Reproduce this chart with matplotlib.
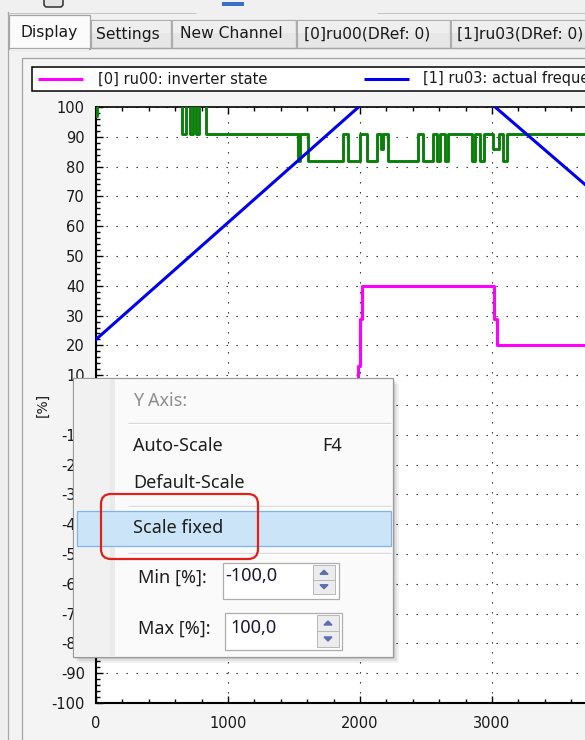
import matplotlib
matplotlib.use("Agg")
import matplotlib.pyplot as plt
from matplotlib.patches import Rectangle, FancyBboxPatch, Polygon
from matplotlib.ticker import MultipleLocator

W, H = 585, 740

# [0] ru00: inverter state (steps)
state_x = [0, 1982, 1997, 2012, 3014, 3037, 3705]
state_y = [0, 13, 29, 40, 29, 20, 20]

# [1] ru03: actual frequency (goes above 100 % between ~2000 and ~3000)
freq_x = [0, 2500, 3705]
freq_y = [22, 120, 74]

# [2] third channel, green trace (steps)
green_x = [0, 8, 652, 682, 712, 735, 758, 780, 833, 1530, 1545, 1606, 1871, 1909,
           2000, 2053, 2129, 2159, 2174, 2212, 2439, 2477, 2553, 2583, 2606, 2644,
           2667, 2848, 2871, 2909, 2939, 3008, 3053, 3083, 3114, 3152, 3705]
green_y = [97, 104, 91, 104, 91, 104, 91, 104, 91, 82, 91, 82, 91, 82,
           91, 82, 91, 86, 91, 82, 91, 82, 91, 82, 91, 82,
           91, 82, 91, 82, 91, 86, 91, 82, 91, 91, 91]

tab_labels = ["Display", "Settings", "New Channel", "[0]ru00(DRef: 0)", "[1]ru03(DRef: 0)"]
legend_labels = ["[0] ru00: inverter state", "[1] ru03: actual frequency"]
y_range = (-100, 100)
x_end = 3705
menu_title = "Y Axis:"
menu_items = ["Auto-Scale", "Default-Scale", "Scale fixed"]
min_value = "-100,0"
max_value = "100,0"

plt.rcParams['font.family'] = ['DejaVu Sans']
plt.rcParams['axes.unicode_minus'] = False
UI_FONT = ['Noto Sans', 'DejaVu Sans']


def box(ax, x0, y0, x1, y1, fc='none', ec='none', lw=0.72, z=1):
    ax.add_patch(Rectangle((x0, y0), x1 - x0, y1 - y0, facecolor=fc,
                           edgecolor=ec, linewidth=lw, zorder=z))


def hline(ax, x0, x1, y, color, lw=0.72, z=2):
    ax.plot([x0, x1], [y, y], color=color, lw=lw, zorder=z, solid_capstyle='butt')


def pixel_axes(fig, z):
    a = fig.add_axes([0, 0, 1, 1], zorder=z)
    a.set_xlim(0, W)
    a.set_ylim(H, 0)
    a.axis('off')
    return a


def draw_frame(bg):
    # leftovers of the toolbar above the tabs
    hline(bg, 7, 196, 12.5, '#c4c4c4')
    hline(bg, 377, 585, 12.5, '#c4c4c4')
    bg.add_patch(FancyBboxPatch((44, -6), 19, 13, boxstyle='round,pad=0,rounding_size=3',
                                facecolor='#e4e4e4', edgecolor='#3c3c3c', lw=1.2, zorder=2))
    box(bg, 222, 2, 244, 6, fc='#3a6fc8')

    # tab page and chart control
    box(bg, 8, 47, 585, 740, fc='#f2f2f2')
    box(bg, 21.5, 57.5, 600, 760, fc='#f4f4f4', ec='#a3a3a3', lw=0.9)
    bg.plot([7.5, 7.5], [12, 740], color='#a8a8a8', lw=0.9)
    hline(bg, 7.5, 585, 47.5, '#a5a5a5', lw=0.9)

    tabs = [(91, 171, 96), (172, 296, 180), (297, 450, 304), (451, 620, 457)]
    for (x0, x1, tx), label in zip(tabs, tab_labels[1:]):
        box(bg, x0, 20, x1, 47.5, fc='#e6e6e6', ec='#adadad', lw=0.9)
        box(bg, x0 + 1, 21, x1 - 1, 33, fc='#eeeeee', z=1.5)
        bg.text(tx, 34, label, fontsize=11.2, color='#1a1a1a', va='center', zorder=3)
    box(bg, 9, 15, 90, 48.5, fc='#fbfbfb', ec='#a5a5a5', lw=0.9)
    box(bg, 9.8, 46, 89.2, 50, fc='#fbfbfb', z=1.5)
    bg.text(21, 32, tab_labels[0], fontsize=11.2, color='#1a1a1a', va='center', zorder=3)

    # legend strip
    box(bg, 32, 67, 620, 91, fc='white', ec='black', lw=1.1, z=2)
    hline(bg, 38, 83, 78.5, '#ff00ff', lw=2.2, z=3)
    bg.text(98, 79, legend_labels[0], fontsize=10.5, color='#1a1a1a', va='center', zorder=3)
    hline(bg, 364, 409, 78.5, '#0000f0', lw=2.2, z=3)
    bg.text(423, 79, legend_labels[1], fontsize=10.5, color='#1a1a1a', va='center', zorder=3)


def plot_scope(fig):
    ax = fig.add_axes([96 / W, 1 - 703 / H, 1 - 96 / W, (703 - 107) / H], zorder=1)
    ax.set_facecolor('white')
    ax.plot(state_x, state_y, drawstyle='steps-post', color='#ff00ff', lw=2.2, zorder=3)
    ax.plot(green_x, green_y, drawstyle='steps-post', color='#0a800a', lw=2.1, zorder=3)
    ax.plot(freq_x, freq_y, color='#0000f0', lw=2.2, zorder=4)

    ax.set_xlim(0, x_end)
    ax.set_ylim(*y_range)
    ax.xaxis.set_major_locator(MultipleLocator(1000))
    ax.xaxis.set_minor_locator(MultipleLocator(200))
    ax.yaxis.set_major_locator(MultipleLocator(10))
    ax.yaxis.set_minor_locator(MultipleLocator(2))
    ax.grid(True, which='major', color='#202020', lw=0.8, linestyle=(0, (1.2, 7.8)))

    ax.tick_params(which='both', direction='in', top=True, right=False, width=1,
                   color='black', labelcolor='#1a1a1a', labelsize=10.5)
    ax.tick_params(which='major', length=5)
    ax.tick_params(which='minor', length=3)
    ax.tick_params(axis='x', pad=9)
    ax.tick_params(axis='y', pad=8)
    for side in ['left', 'bottom']:
        ax.spines[side].set_linewidth(1.5)
    ax.spines['top'].set_linewidth(1.2)
    ax.spines['right'].set_visible(False)

    ax.set_ylabel('[%]', fontsize=10, color='#1a1a1a')
    ax.yaxis.set_label_coords(-(96 - 50) / (W - 96), 0.5)
    return ax


def spin(ax, x0, y0, x1, y1):
    mid = (y0 + y1) / 2
    box(ax, x0, y0, x1, mid, fc='#ececec', ec='#b9b9b9', lw=0.72, z=5)
    box(ax, x0, mid, x1, y1, fc='#ececec', ec='#b9b9b9', lw=0.72, z=5)
    cx = (x0 + x1) / 2
    up, dn = (y0 + mid) / 2, (mid + y1) / 2
    ax.add_patch(Polygon([[cx - 4, up + 2], [cx + 4, up + 2], [cx, up - 2]],
                         color='#5b6fb0', zorder=6))
    ax.add_patch(Polygon([[cx - 4, dn - 2], [cx + 4, dn - 2], [cx, dn + 2]],
                         color='#5b6fb0', zorder=6))


def draw_menu(ui):
    # drop shadow
    for k, a in [(6, 0.05), (4, 0.07), (2, 0.09)]:
        box(ui, 73 + k, 378 + k, 393 + k, 657 + k, fc=(0, 0, 0, a), z=1)
    box(ui, 73, 378, 393, 657, fc='#fafafa', ec='#9a9a9a', lw=0.9, z=2)
    box(ui, 74, 379, 114, 656, fc='#f1f1f1', z=2.5)
    box(ui, 110, 379, 115, 656, fc='#eaeaea', z=2.6)

    ui.text(133, 401, menu_title, fontsize=13, family=UI_FONT, color='#8d8d8d',
            va='center', zorder=7)
    for y in [423, 506, 553]:
        hline(ui, 128, 391, y, '#d5d5d5', lw=0.9, z=4)
        hline(ui, 128, 391, y + 1.2, '#ffffff', lw=0.9, z=4)

    box(ui, 77, 511, 391, 546, fc='#cce4f7', ec='#7eb4ea', lw=0.9, z=5)
    ui.text(133, 446, menu_items[0], fontsize=13, family=UI_FONT, color='#1e1e1e',
            va='center', zorder=7)
    ui.text(322, 446, 'F4', fontsize=13, family=UI_FONT, color='#1e1e1e',
            va='center', zorder=7)
    ui.text(133, 483, menu_items[1], fontsize=13, family=UI_FONT, color='#1e1e1e',
            va='center', zorder=7)
    ui.text(133, 528, menu_items[2], fontsize=13, family=UI_FONT, color='#1e1e1e',
            va='center', zorder=7)

    # min / max boxes
    ui.text(138, 578, 'Min [%]:', fontsize=13, family=UI_FONT, color='#1e1e1e',
            va='center', zorder=7)
    box(ui, 223, 563, 339, 599, fc='white', ec='#aeaeae', lw=0.9, z=4)
    ui.text(225, 576, min_value, fontsize=13, family=UI_FONT, color='#1c1630',
            va='center', zorder=7)
    spin(ui, 313, 565, 335, 594)

    ui.text(138, 629, 'Max [%]:', fontsize=13, family=UI_FONT, color='#1e1e1e',
            va='center', zorder=7)
    box(ui, 225, 613, 342, 650, fc='white', ec='#aeaeae', lw=0.9, z=4)
    ui.text(230, 628, max_value, fontsize=13, family=UI_FONT, color='#1c1630',
            va='center', zorder=7)
    spin(ui, 317, 615, 339, 647)

    # red marker around "Scale fixed"
    ui.add_patch(FancyBboxPatch((101, 494), 157, 65,
                                boxstyle='round,pad=0,rounding_size=10',
                                facecolor='none', edgecolor='#e0201a', lw=1.6, zorder=8))


def main():
    fig = plt.figure(figsize=(W / 100, H / 100), dpi=100)
    fig.patch.set_facecolor('#f0f0f0')
    bg = pixel_axes(fig, 0)
    draw_frame(bg)
    plot_scope(fig)
    ui = pixel_axes(fig, 3)
    draw_menu(ui)
    fig.savefig('out.png', dpi=100, facecolor=fig.get_facecolor())


if __name__ == "__main__":
    main()
